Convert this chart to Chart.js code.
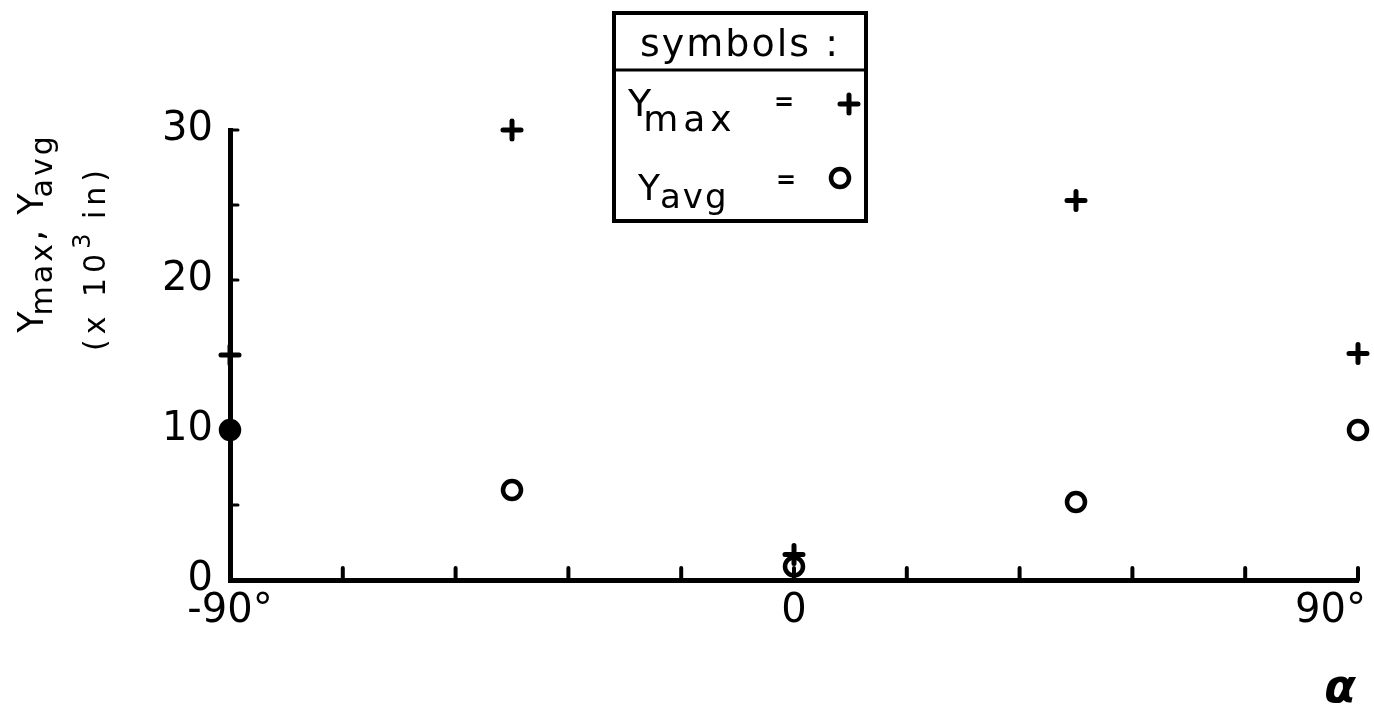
<!DOCTYPE html>
<html>
<head>
<meta charset="utf-8">
<title>Ymax, Yavg vs alpha</title>
<script src="https://cdn.jsdelivr.net/npm/chart.js@4.4.1/dist/chart.umd.min.js"></script>
<style>
  html, body { margin: 0; padding: 0; background: #fff; }
  #wrap { width: 1374px; height: 712px; }
</style>
</head>
<body>
<div id="wrap"><canvas id="chart" width="1374" height="712"></canvas></div>
<script>
// angle alpha, degrees
var alphaDeg = [-90, -45, 0, 45, 90];
// deflections (x 10^-3 in)
var yMax = [15, 30, 1.7, 25.3, 15.1];
var yAvg = [10, 6, 0.9, 5.2, 10];

// labelled ticks
var xLabelValues = [-90, 0, 90];
var xLabelText = ['-90°', '0', '90°'];
var yLabelValues = [0, 10, 20, 30];

var FONT = '"DejaVu Sans", "Liberation Sans", sans-serif';

function toPoints(xs, ys) {
  return xs.map(function (x, i) { return { x: x, y: ys[i] }; });
}

// draws a row of text pieces one after another (font / baseline shift per piece)
function drawRuns(ctx, runs, x, y, align) {
  var total = 0;
  runs.forEach(function (r) {
    ctx.font = r.font;
    ctx.letterSpacing = r.spacing || '0px';
    r.w = ctx.measureText(r.text).width + (r.gap || 0);
    total += r.w;
  });
  var cx = align === 'center' ? x - total / 2 : x;
  ctx.textAlign = 'left';
  ctx.textBaseline = 'alphabetic';
  runs.forEach(function (r) {
    ctx.font = r.font;
    ctx.letterSpacing = r.spacing || '0px';
    ctx.fillText(r.text, cx, y + (r.dy || 0));
    cx += r.w;
  });
  ctx.letterSpacing = '0px';
}

function marker(ctx, style, x, y, radius, width, fill) {
  ctx.save();
  ctx.strokeStyle = '#000';
  ctx.fillStyle = fill;
  ctx.lineWidth = width;
  ctx.lineCap = 'round';
  Chart.helpers.drawPoint(ctx, { pointStyle: style, radius: radius, rotation: 0, borderWidth: width }, x, y);
  ctx.restore();
}

var paperAxes = {
  id: 'paperAxes',
  beforeDatasetsDraw: function (chart) {
    chart.ctx.lineCap = 'round';
    chart.ctx.lineJoin = 'round';
  },
  afterDatasetsDraw: function (chart) {
    chart.ctx.lineCap = 'butt';
    chart.ctx.lineJoin = 'miter';
  },
  afterDraw: function (chart) {
    var ctx = chart.ctx, xs = chart.scales.x, ys = chart.scales.y, area = chart.chartArea;
    ctx.save();
    ctx.strokeStyle = '#000';
    ctx.fillStyle = '#000';
    ctx.lineCap = 'round';

    // short tick marks pointing into the plot
    ctx.lineWidth = 4;
    xs.ticks.forEach(function (t) {
      if (t.value === xs.min) return;
      var px = xs.getPixelForValue(t.value);
      ctx.beginPath(); ctx.moveTo(px, area.bottom); ctx.lineTo(px, area.bottom - 12); ctx.stroke();
    });
    ctx.lineWidth = 3;
    ys.ticks.forEach(function (t) {
      if (t.value === ys.min) return;
      var py = ys.getPixelForValue(t.value);
      ctx.beginPath(); ctx.moveTo(area.left, py); ctx.lineTo(area.left + 8, py); ctx.stroke();
    });

    // x tick labels
    ctx.font = '40px ' + FONT;
    ctx.textBaseline = 'alphabetic';
    xLabelValues.forEach(function (v, i) {
      var px = xs.getPixelForValue(v);
      if (i === xLabelValues.length - 1) {
        ctx.textAlign = 'right';
        ctx.fillText(xLabelText[i], px + 8, 622);
      } else {
        ctx.textAlign = 'center';
        ctx.fillText(xLabelText[i], px, 622);
      }
    });

    // x axis title
    ctx.font = 'bold italic 46px ' + FONT;
    ctx.textAlign = 'center';
    ctx.fillText('α', 1340, 702);

    // y axis title, rotated
    ctx.save();
    ctx.translate(43, 233);
    ctx.rotate(-Math.PI / 2);
    drawRuns(ctx, [
      { text: 'Y', font: '35px ' + FONT, gap: -4 },
      { text: 'max', font: '30px ' + FONT, dy: 9, spacing: '3px' },
      { text: ', ', font: '35px ' + FONT, spacing: '2px' },
      { text: 'Y', font: '35px ' + FONT, gap: -4 },
      { text: 'avg', font: '30px ' + FONT, dy: 9, spacing: '3px' }
    ], 0, 0, 'center');
    ctx.restore();

    ctx.save();
    ctx.translate(105, 258);
    ctx.rotate(-Math.PI / 2);
    drawRuns(ctx, [
      { text: '(x 10', font: '30px ' + FONT, spacing: '5px' },
      { text: '3', font: '24px ' + FONT, dy: -15 },
      { text: ' in)', font: '30px ' + FONT, spacing: '5px' }
    ], 0, 0, 'center');
    ctx.restore();

    // symbols box
    ctx.lineWidth = 4;
    ctx.lineCap = 'butt';
    ctx.strokeRect(614, 13, 252, 208);
    ctx.lineWidth = 3;
    ctx.beginPath(); ctx.moveTo(614, 70); ctx.lineTo(866, 70); ctx.stroke();

    drawRuns(ctx, [{ text: 'symbols :', font: '38px ' + FONT, spacing: '2px' }], 740, 56, 'center');

    drawRuns(ctx, [
      { text: 'Y', font: '38px ' + FONT, gap: -8 },
      { text: 'max', font: '36px ' + FONT, dy: 15, spacing: '5px' }
    ], 628, 116, 'left');
    ctx.font = 'bold 24px ' + FONT;
    ctx.textAlign = 'center';
    ctx.fillText('=', 784, 110);
    marker(ctx, 'cross', 849, 104, 9, 5, '#000');

    drawRuns(ctx, [
      { text: 'Y', font: '36px ' + FONT, gap: 0 },
      { text: 'avg', font: '34px ' + FONT, dy: 8, spacing: '2px' }
    ], 638, 200, 'left');
    ctx.font = 'bold 24px ' + FONT;
    ctx.textAlign = 'center';
    ctx.fillText('=', 786, 188);
    marker(ctx, 'circle', 840, 178, 9, 4.5, '#fff');

    ctx.restore();
  }
};

var ctx = document.getElementById('chart').getContext('2d');
var chart = new Chart(ctx, {
  type: 'scatter',
  data: {
    datasets: [
      {
        label: 'Ymax',
        data: toPoints(alphaDeg, yMax),
        pointStyle: 'cross',
        radius: 9,
        borderWidth: 5,
        borderColor: '#000',
        backgroundColor: '#000',
        clip: false
      },
      {
        label: 'Yavg',
        data: toPoints(alphaDeg, yAvg),
        pointStyle: 'circle',
        radius: 9,
        borderWidth: 4.5,
        borderColor: '#000',
        // the point sitting on the axis reads as a solid dot
        backgroundColor: ['#000', '#fff', '#fff', '#fff', '#fff'],
        clip: false
      }
    ]
  },
  options: {
    responsive: false,
    animation: false,
    devicePixelRatio: 1,
    layout: { padding: { left: 0, top: 130, right: 16, bottom: 0 } },
    plugins: {
      legend: { display: false },
      tooltip: { enabled: false }
    },
    scales: {
      x: {
        type: 'linear',
        min: -90,
        max: 90,
        ticks: { stepSize: 18, display: false },
        grid: { display: false },
        border: { display: true, color: '#000', width: 5 },
        afterFit: function (s) { s.height = 132; s.paddingLeft = 0; s.paddingRight = 0; }
      },
      y: {
        min: 0,
        max: 30,
        ticks: {
          stepSize: 5,
          padding: 17,
          color: '#000',
          font: { family: FONT, size: 40 },
          callback: function (v) { return yLabelValues.indexOf(v) >= 0 ? String(v) : ''; }
        },
        grid: { display: false, drawTicks: false },
        border: { display: true, color: '#000', width: 5 },
        afterFit: function (s) { s.width = 230; s.paddingTop = 0; s.paddingBottom = 0; }
      }
    }
  },
  plugins: [paperAxes]
});
</script>
</body>
</html>
